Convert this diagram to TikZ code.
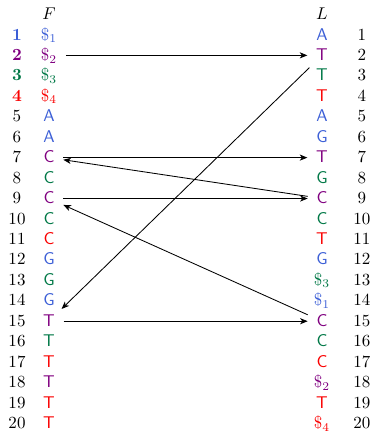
\documentclass[tikz,border=0pt]{standalone}
\usepackage{fontspec}
\usetikzlibrary{arrows.meta}
\definecolor{cb}{RGB}{59,94,214}
\definecolor{cp}{RGB}{128,0,128}
\definecolor{cg}{RGB}{0,120,70}
\definecolor{cr}{RGB}{250,0,0}
\begin{document}
\begin{tikzpicture}[x=0.5882pt,y=-0.5882pt,
  cell/.style={anchor=base,font=\sffamily,text height=7.5pt,text depth=1.5pt,inner xsep=5pt,inner ysep=2.5pt},
  num/.style={anchor=base},
  arr/.style={-{Stealth[length=4.5pt,width=3.6pt,inset=1.3pt]},line width=0.5pt}]
\useasboundingbox (0,0) rectangle (374,431);
\node[cell] (Fh) at (49,19.5) {$F$};
\node[cell] (Lh) at (322,19.5) {$L$};
\foreach \i/\n/\fc/\f/\lc/\l in {
  1/{\textcolor{cb}{\textbf{1}}}/cb/{$\$_1$}/cb/A,
  2/{\textcolor{cp}{\textbf{2}}}/cp/{$\$_2$}/cp/T,
  3/{\textcolor{cg}{\textbf{3}}}/cg/{$\$_3$}/cg/T,
  4/{\textcolor{cr}{\textbf{4}}}/cr/{$\$_4$}/cr/T,
  5/5/cb/A/cb/A,
  6/6/cb/A/cb/G,
  7/7/cp/C/cp/T,
  8/8/cg/C/cg/G,
  9/9/cp/C/cp/C,
  10/10/cg/C/cg/C,
  11/11/cr/C/cr/T,
  12/12/cb/G/cb/G,
  13/13/cg/G/cg/{$\$_3$},
  14/14/cb/G/cb/{$\$_1$},
  15/15/cp/T/cp/C,
  16/16/cg/T/cg/C,
  17/17/cr/T/cr/C,
  18/18/cp/T/cp/{$\$_2$},
  19/19/cr/T/cr/T,
  20/20/cr/T/cr/{$\$_4$}}{
  \pgfmathsetmacro\yy{40+(\i-1)*20.45}
  \node[num] (nl\i) at (17,\yy) {\n};
  \node[cell,text=\fc] (F\i) at (49,\yy) {\f};
  \node[cell,text=\lc] (L\i) at (322,\yy) {\l};
  \node[num] (nr\i) at (362,\yy) {\i};
}
\draw[arr] (F2) -- (L2);
\draw[arr] (L2) -- (F15);
\draw[arr] (F15) -- (L15);
\draw[arr] (L15) -- (F9);
\draw[arr] (F9) -- (L9);
\draw[arr] (L9) -- (F7);
\draw[arr] (F7) -- (L7);
\end{tikzpicture}
\end{document}
